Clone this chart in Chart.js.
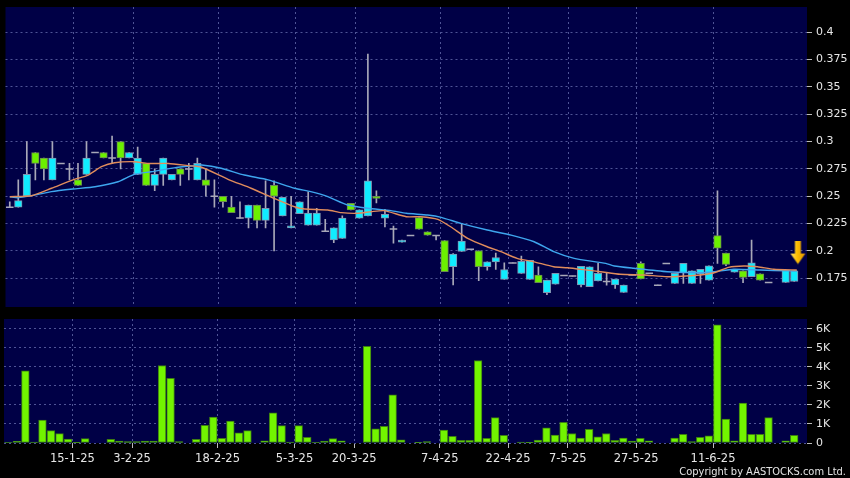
<!DOCTYPE html>
<html>
<head>
<meta charset="utf-8">
<script src="https://cdn.jsdelivr.net/npm/chart.js@4.4.1/dist/chart.umd.min.js"></script>
<style>
    html, body { margin: 0; padding: 0; background: #000; }
    #wrap { position: relative; width: 850px; height: 478px; overflow: hidden; background: #000; }
    #wrap canvas { position: absolute; left: 0; top: 0; }
    #copy { position: absolute; right: 4px; top: 465px; color: #e4e4e4; font-family: "DejaVu Sans Condensed", "DejaVu Sans", sans-serif; font-stretch: condensed; font-size: 11px; white-space: nowrap; }
</style>
</head>
<body>
<div id="wrap">
    <canvas id="priceChart" width="850" height="478"></canvas>
    <canvas id="volChart" width="850" height="478"></canvas>
    <div id="copy">Copyright by AASTOCKS.com Ltd.</div>
</div>
<script>
// günlük veriler (indeks 0..92)
const opens = [0.240,0.240,0.250,0.290,0.285,0.265,0.280,0.275,0.265,0.270,
    0.290,0.290,0.285,0.300,0.285,0.270,0.280,0.260,0.270,0.265,
    0.275,0.275,0.265,0.265,0.250,0.250,0.240,0.230,0.230,0.242,
    0.228,0.260,0.232,0.221,0.234,0.2235,0.2235,0.218,0.210,0.2115,
    0.2435,0.230,0.232,0.250,0.230,0.220,0.208,0.214,0.2305,0.2175,
    0.214,0.2095,0.1855,0.1995,0.2015,0.200,0.1855,0.190,0.174,0.189,
    0.1795,0.174,0.178,0.1617,0.1695,0.1775,0.177,0.169,0.1673,0.1725,
    0.172,0.169,0.162,0.178,0.1886,0.1795,0.1687,0.1886,0.1703,0.180,
    0.1703,0.179,0.1733,0.214,0.198,0.1805,0.1818,0.1764,0.179,0.1712,
    0.1825,0.1712,0.172];
const highs = [0.245,0.265,0.300,0.290,0.285,0.300,0.280,0.280,0.280,0.300,
    0.290,0.290,0.305,0.300,0.290,0.295,0.280,0.275,0.285,0.270,
    0.275,0.280,0.285,0.275,0.265,0.250,0.250,0.245,0.242,0.242,
    0.264,0.264,0.249,0.250,0.245,0.254,0.239,0.229,0.221,0.232,
    0.2435,0.2375,0.380,0.255,0.238,0.2227,0.210,0.214,0.2305,0.2175,
    0.214,0.2095,0.1975,0.225,0.2015,0.200,0.190,0.198,0.189,0.189,
    0.1953,0.1915,0.1855,0.1733,0.1795,0.1775,0.177,0.186,0.1855,0.1886,
    0.1795,0.1743,0.1687,0.178,0.190,0.1795,0.1687,0.1886,0.1795,0.1886,
    0.1818,0.1832,0.1864,0.255,0.198,0.1832,0.1818,0.210,0.179,0.1712,
    0.1825,0.1825,0.1818];
const lows = [0.240,0.240,0.250,0.265,0.265,0.265,0.280,0.265,0.260,0.270,
    0.290,0.285,0.280,0.275,0.285,0.270,0.260,0.255,0.260,0.265,
    0.260,0.265,0.265,0.250,0.240,0.240,0.235,0.230,0.221,0.221,
    0.221,0.200,0.232,0.221,0.234,0.2235,0.2235,0.218,0.2075,0.2115,
    0.2375,0.230,0.232,0.244,0.222,0.207,0.208,0.214,0.220,0.2145,
    0.210,0.181,0.169,0.1995,0.2015,0.1727,0.1825,0.183,0.174,0.189,
    0.1795,0.174,0.171,0.160,0.1695,0.1775,0.177,0.167,0.1673,0.1725,
    0.1687,0.1657,0.162,0.178,0.1743,0.1795,0.1687,0.1886,0.1703,0.1703,
    0.1703,0.1703,0.1733,0.1886,0.1865,0.1805,0.171,0.1764,0.1733,0.1712,
    0.1825,0.1712,0.172];
const closes = [0.240,0.246,0.270,0.280,0.275,0.285,0.280,0.275,0.260,0.285,
    0.290,0.285,0.285,0.285,0.290,0.285,0.260,0.270,0.285,0.270,
    0.270,0.275,0.280,0.260,0.250,0.245,0.235,0.230,0.242,0.228,
    0.239,0.250,0.249,0.223,0.245,0.2345,0.2345,0.218,0.221,0.230,
    0.2375,0.2375,0.264,0.248,0.2335,0.220,0.210,0.214,0.220,0.2145,
    0.214,0.181,0.197,0.209,0.2015,0.1855,0.190,0.194,0.183,0.189,
    0.1905,0.1915,0.171,0.1733,0.1795,0.1775,0.177,0.186,0.1855,0.1795,
    0.172,0.1743,0.1687,0.178,0.1743,0.1795,0.1687,0.1886,0.1795,0.1886,
    0.1818,0.1832,0.1864,0.2025,0.1877,0.1832,0.1758,0.189,0.1733,0.1712,
    0.1825,0.1825,0.1818];
// hacim (bin)
const volumes = [0.03,0.09,3.79,0.05,1.2,0.65,0.49,0.21,0.02,0.23,
    0,0,0.19,0.1,0.07,0.07,0.1,0.1,4.07,3.4,
    0.07,0,0.19,0.93,1.36,0.24,1.15,0.54,0.65,0,
    0.12,1.59,0.91,0.05,0.91,0.3,0.03,0.1,0.23,0.12,
    0,0,5.08,0.75,0.87,2.53,0.17,0,0.02,0.07,
    0,0.68,0.35,0.14,0.14,4.33,0.24,1.33,0.4,0,
    0.05,0.04,0.15,0.8,0.42,1.08,0.5,0.26,0.72,0.33,
    0.5,0.14,0.26,0.1,0.24,0.12,0,0,0.26,0.45,
    0.07,0.3,0.37,6.2,1.26,0.12,2.1,0.45,0.45,1.33,
    0,0.12,0.4];
// hareketli ortalamalar [indeks, değer]
const maShort = [[0,0.2496],[2.55,0.2505],[4.9,0.2573],[7.4,0.265],[9.2,0.2694],[10.75,0.277],
    [12.3,0.2807],[14.6,0.2816],[16.2,0.28],[18.6,0.28],[20.9,0.278],[22.5,0.2765],
    [25.6,0.2655],[28.3,0.2573],[31.0,0.2481],[33.4,0.2404],[34.6,0.2383],[37.3,0.2374],
    [38.9,0.235],[40.8,0.2344],[42.4,0.2359],[43.9,0.2368],[46.5,0.2313],[48.2,0.2313],
    [50.2,0.2289],[51.7,0.2221],[53.7,0.2115],[56.0,0.2038],[57.6,0.1993],[59.5,0.1932],
    [61.5,0.19],[63.8,0.1855],[65.4,0.1846],[67.7,0.1825],[69.3,0.181],[71.6,0.1786],
    [74.4,0.178],[77.1,0.1764],[81.0,0.178],[82.6,0.18],[84.3,0.185],[86.1,0.1862],
    [87.7,0.1855],[89.6,0.1832],[92.3,0.1825]];
const maLong = [[0,0.2496],[1.0,0.2487],[2.9,0.251],[4.9,0.2542],[7.4,0.2566],[10.0,0.2587],
    [12.7,0.2633],[14.6,0.27],[16.6,0.2724],[19.3,0.276],[21.7,0.278],[22.5,0.2786],
    [24.8,0.2756],[27.5,0.2694],[30.3,0.265],[33.4,0.2573],[35.3,0.2542],[37.3,0.2496],
    [39.6,0.242],[42.0,0.239],[44.7,0.2368],[46.5,0.2344],[49.0,0.2328],[50.6,0.2307],
    [52.9,0.2252],[56.0,0.2191],[58.8,0.2145],[61.5,0.2084],[63.8,0.1993],[66.2,0.1932],
    [69.9,0.1886],[70.9,0.1862],[73.2,0.1841],[77.1,0.181],[81.0,0.18],[82.6,0.181],
    [84.9,0.1832],[88.0,0.1825],[91.2,0.1818],[92.3,0.1818]];
const lastMark = [92.43, 0.1985];

const tickPos = [7.5, 14.5, 24.5, 33.5, 40.5, 50.5, 58.5, 65.5, 73.5, 82.5];
const tickLabels = ['15-1-25', '3-2-25', '18-2-25', '5-3-25', '20-3-25', '7-4-25', '22-4-25', '7-5-25', '27-5-25', '11-6-25'];
const priceTicks = [0.175, 0.2, 0.225, 0.25, 0.275, 0.3, 0.325, 0.35, 0.375, 0.4];
const volTicks = [0, 1, 2, 3, 4, 5, 6];

const font = { family: 'DejaVu Sans', size: 11 };
const labelColor = '#e6e6e6';
const gridColor = '#4f5496';
const idx = opens.map((_, i) => i);
const isDoji = i => opens[i] === closes[i];

// panel arka planı
const panelBg = {
    id: 'panelBg',
    beforeDraw(chart) {
        const { ctx, chartArea: a } = chart;
        ctx.save();
        ctx.fillStyle = '#000046';
        ctx.fillRect(a.left, a.top, a.right - a.left, a.bottom - a.top);
        ctx.restore();
    }
};

// sarı ok işareti
const arrowImg = document.createElement('canvas');
arrowImg.width = 17;
arrowImg.height = 24;
(() => {
    const g = arrowImg.getContext('2d');
    const grad = g.createLinearGradient(0, 0, 17, 0);
    grad.addColorStop(0, '#ffe680');
    grad.addColorStop(0.45, '#ffbf00');
    grad.addColorStop(1, '#d88a00');
    g.fillStyle = grad;
    g.beginPath();
    g.moveTo(5.5, 0); g.lineTo(11.5, 0); g.lineTo(11.5, 13);
    g.lineTo(16, 13); g.lineTo(8.5, 23.5); g.lineTo(1, 13);
    g.lineTo(5.5, 13); g.closePath();
    g.fill();
})();

const xScale = (showLabels) => ({
    type: 'linear',
    min: -0.5,
    max: 93.5,
    offset: false,
    afterBuildTicks: s => { s.ticks = tickPos.map(v => ({ value: v })); },
    afterFit: s => {
        s.height = showLabels ? 35 : 0;
        s.paddingLeft = 0;
        s.paddingRight = 0;
    },
    ticks: {
        display: showLabels,
        autoSkip: false,
        maxRotation: 0,
        padding: 4,
        color: labelColor,
        font: { family: 'DejaVu Sans', size: 11.5 },
        callback: (v, k) => tickLabels[k]
    },
    grid: { offset: false, color: gridColor, drawTicks: showLabels, tickLength: 5, tickColor: '#bbbbbb' },
    border: { display: false, dash: [2, 3] }
});

const yScale = (min, max, ticks, fmt) => ({
    position: 'right',
    min: min,
    max: max,
    beginAtZero: false,
    afterBuildTicks: s => { s.ticks = ticks.map(v => ({ value: v })); },
    afterFit: s => {
        s.width = 43;
        s.paddingTop = 0;
        s.paddingBottom = 0;
    },
    ticks: { color: labelColor, font: font, padding: 4, callback: fmt },
    grid: { color: gridColor, tickLength: 5, tickColor: '#bbbbbb' },
    border: { display: false, dash: [2, 3] }
});

const candles = idx.filter(i => !isDoji(i));
const dojis = idx.filter(i => isDoji(i));

new Chart(document.getElementById('priceChart'), {
    type: 'bar',
    data: {
        datasets: [
            {
                // fitiller
                type: 'bar',
                data: idx.map(i => ({ x: i, y: [lows[i], highs[i]] })),
                backgroundColor: '#a8a8b8',
                barThickness: 1,
                grouped: false,
                order: 5
            },
            {
                // gövdeler
                type: 'bar',
                data: candles.map(i => ({ x: i, y: [opens[i], closes[i]] })),
                backgroundColor: candles.map(i => closes[i] > opens[i] ? '#10ecff' : '#6cf000'),
                borderColor: candles.map(i => closes[i] > opens[i] ? '#7f93b0' : '#6a8a50'),
                borderWidth: 1,
                borderSkipped: false,
                barThickness: 7.5,
                grouped: false,
                order: 4
            },
            {
                type: 'scatter',
                data: dojis.map(i => ({ x: i, y: closes[i] })),
                pointStyle: 'line',
                pointRadius: 3.8,
                borderColor: '#a8a8b8',
                borderWidth: 1.5,
                order: 3
            },
            {
                type: 'line',
                data: maLong.map(p => ({ x: p[0], y: p[1] })),
                borderColor: '#3ea6ee',
                borderWidth: 1.4,
                pointRadius: 0,
                tension: 0.2,
                order: 2
            },
            {
                type: 'line',
                data: maShort.map(p => ({ x: p[0], y: p[1] })),
                borderColor: '#e08c5c',
                borderWidth: 1.4,
                pointRadius: 0,
                tension: 0.2,
                order: 1
            },
            {
                type: 'scatter',
                data: [{ x: lastMark[0], y: lastMark[1] }],
                pointStyle: arrowImg,
                order: 0
            }
        ]
    },
    options: {
        responsive: false,
        animation: false,
        events: [],
        layout: { padding: { left: 4, top: 7, right: 0, bottom: 171 } },
        plugins: { legend: { display: false }, tooltip: { enabled: false } },
        scales: {
            x: xScale(false),
            y: yScale(0.1487, 0.4231, priceTicks, v => String(parseFloat(v.toFixed(3))))
        }
    },
    plugins: [panelBg]
});

new Chart(document.getElementById('volChart'), {
    type: 'bar',
    data: {
        datasets: [{
            data: idx.filter(i => volumes[i] > 0).map(i => ({ x: i, y: volumes[i] })),
            backgroundColor: '#72f400',
            borderColor: '#3d7d12',
            borderWidth: 1,
            borderSkipped: false,
            barThickness: 7.7,
            grouped: false
        }]
    },
    options: {
        responsive: false,
        animation: false,
        events: [],
        layout: { padding: { left: 4, top: 319, right: 0, bottom: 0 } },
        plugins: { legend: { display: false }, tooltip: { enabled: false } },
        scales: {
            x: xScale(true),
            y: yScale(0, 6.51, volTicks, v => v === 0 ? '0' : v + 'K')
        }
    },
    plugins: [panelBg]
});
</script>
</body>
</html>
